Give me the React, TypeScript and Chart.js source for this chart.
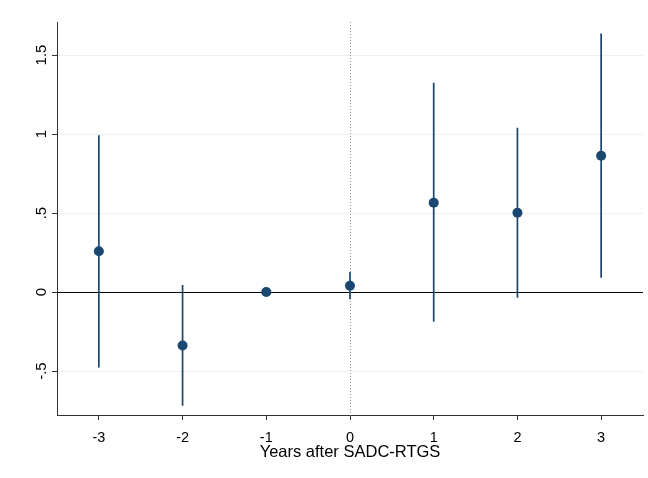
import React, { useEffect, useRef } from "react";
import { Chart, registerables } from "chart.js";

Chart.register(...registerables);

const years = [-3, -2, -1, 0, 1, 2, 3];
const coef = [0.258, -0.338, 0, 0.04, 0.565, 0.502, 0.863];
const ciLow: (number | null)[] = [-0.477, -0.72, null, -0.046, -0.188, -0.036, 0.09];
const ciHigh: (number | null)[] = [0.992, 0.044, null, 0.127, 1.325, 1.04, 1.637];
const yTicks = [-0.5, 0, 0.5, 1, 1.5];
const yTickLabels = ["-.5", "0", ".5", "1", "1.5"];
const xTicks = [-3, -2, -1, 0, 1, 2, 3];
const xTitle = "Years after SADC-RTGS";

const NAVY = "#1a476f";
const FONT = "'Liberation Sans', Arial, sans-serif";

export default function App() {
  const ref = useRef<HTMLCanvasElement>(null);
  useEffect(() => {
    const ciData: any[] = [];
    years.forEach((x, i) => {
      if (ciLow[i] !== null && ciHigh[i] !== null) {
        ciData.push({ x, y: ciLow[i] });
        ciData.push({ x, y: ciHigh[i] });
        ciData.push({ x, y: null });
      }
    });
    const pts = years.map((x, i) => ({ x, y: coef[i] }));

    const overlay = {
      id: "overlay",
      beforeDatasetsDraw(chart: any) {
        const { ctx, chartArea, scales } = chart;
        const x0 = scales.x.getPixelForValue(0);
        ctx.save();
        ctx.strokeStyle = "#9a9a9a";
        ctx.lineWidth = 1;
        ctx.setLineDash([1, 2]);
        ctx.beginPath();
        ctx.moveTo(Math.round(x0) + 0.5, chartArea.top);
        ctx.lineTo(Math.round(x0) + 0.5, chartArea.bottom);
        ctx.stroke();
        ctx.restore();
      },
      afterDraw(chart: any) {
        const { ctx, chartArea, scales } = chart;
        ctx.save();
        ctx.fillStyle = "#000";
        ctx.font = `15px ${FONT}`;
        ctx.textAlign = "center";
        ctx.textBaseline = "alphabetic";
        yTicks.forEach((v, i) => {
          const py = scales.y.getPixelForValue(v);
          ctx.save();
          ctx.translate(45.5, py);
          ctx.rotate(-Math.PI / 2);
          ctx.fillText(yTickLabels[i], 0, 0);
          ctx.restore();
        });
        ctx.font = `16.5px ${FONT}`;
        ctx.fillText(xTitle, (chartArea.left + chartArea.right) / 2, 456.5);
        ctx.restore();
      },
    };

    const chart = new Chart(ref.current!, {
      type: "scatter",
      data: {
        datasets: [
          {
            type: "scatter",
            data: pts,
            pointRadius: 5,
            pointHoverRadius: 5,
            backgroundColor: NAVY,
            borderWidth: 0,
            order: 0,
          } as any,
          {
            type: "line",
            data: ciData,
            showLine: true,
            spanGaps: false,
            borderColor: NAVY,
            borderWidth: 1.7,
            pointRadius: 0,
            order: 1,
          } as any,
        ],
      },
      options: {
        responsive: false,
        animation: false,
        events: [],
        layout: { padding: { top: 22, right: 5, left: 0, bottom: 0 } },
        plugins: { legend: { display: false }, tooltip: { enabled: false } },
        scales: {
          x: {
            type: "linear",
            min: -3.5,
            max: 3.5,
            afterBuildTicks: (s: any) => {
              s.ticks = xTicks.map((v) => ({ value: v }));
            },
            afterFit: (s: any) => {
              s.height = 63;
            },
            ticks: {
              color: "#000",
              font: { family: FONT, size: 14.5 },
              padding: 9,
              maxRotation: 0,
              callback: (v: any) => String(v),
            },
            grid: {
              drawOnChartArea: false,
              drawTicks: true,
              tickLength: 5,
              tickColor: "#333",
            },
            border: { color: "#333", width: 1 },
          },
          y: {
            type: "linear",
            min: -0.778,
            max: 1.709,
            afterBuildTicks: (s: any) => {
              s.ticks = yTicks.map((v) => ({ value: v }));
            },
            afterFit: (s: any) => {
              s.width = 57;
            },
            ticks: { display: false },
            grid: {
              color: (c: any) => (c.tick && c.tick.value === 0 ? "#000" : "#eaf2f3"),
              lineWidth: 1,
              drawTicks: true,
              tickLength: 5,
              tickColor: "#333",
            },
            border: { color: "#333", width: 1 },
          },
        },
      },
      plugins: [overlay],
    });
    return () => chart.destroy();
  }, []);
  return (
    <div style={{ position: "fixed", left: 0, top: 0, width: 648, height: 478, background: "#fff" }}>
      <canvas ref={ref} width={648} height={478} style={{ display: "block" }} />
    </div>
  );
}
